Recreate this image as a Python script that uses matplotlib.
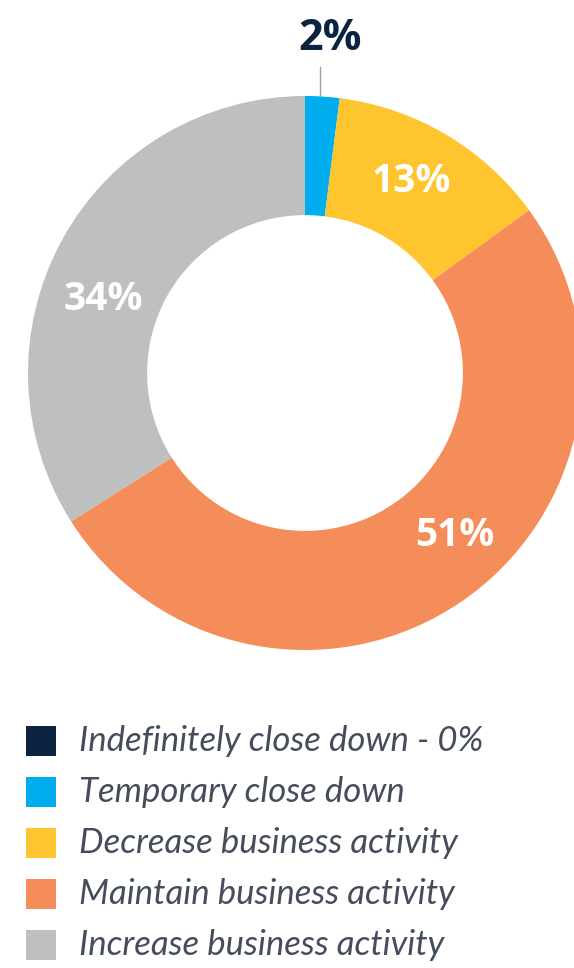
import matplotlib
matplotlib.use("Agg")
import matplotlib.pyplot as plt
from matplotlib.patches import Rectangle

# Data
categories = ["Indefinitely close down - 0%", "Temporary close down",
              "Decrease business activity", "Maintain business activity",
              "Increase business activity"]
shares = [0, 2, 13, 51, 34]
colors = ["#0b2240", "#00adee", "#ffc52e", "#f58d5a", "#bdbfc1"]

W, H = 574, 968
fig = plt.figure(figsize=(W / 100, H / 100), dpi=100)
ax = fig.add_axes([0, 0, 1, 1])

# donut (skip the zero slice, it has no wedge)
cx, cy, R = 305, H - 373, 277
vals = [v for v in shares if v > 0]
cols = [c for v, c in zip(shares, colors) if v > 0]
wedges, _ = ax.pie(vals, colors=cols, startangle=90, counterclock=False,
                   center=(cx, cy), radius=R, frame=True,
                   wedgeprops=dict(width=R * 0.43, linewidth=0))
ax.set_xlim(0, W)
ax.set_ylim(0, H)
ax.set_aspect("equal")
ax.axis("off")

lbl_font = dict(family="Open Sans", weight="bold", fontsize=28)
ax.text(330, H - 38, "2%", color="#0b2240", ha="center", va="center",
        family="Open Sans", weight="bold", fontsize=31)
ax.plot([320, 320], [H - 67, H - 96], color="#a0a2a5", lw=1)
ax.text(411, H - 181, "13%", color="white", ha="center", va="center", **lbl_font)
ax.text(455, H - 536, "51%", color="white", ha="center", va="center", **lbl_font)
ax.text(103, H - 300, "34%", color="white", ha="center", va="center", **lbl_font)

# legend
y0, step = 741, 51
for i, (name, c) in enumerate(zip(categories, colors)):
    y = H - (y0 + i * step)
    ax.add_patch(Rectangle((26, y - 15), 30, 30, color=c, lw=0))
    ax.text(79, y, name, color="#454c5c", ha="left", va="center",
            family="Lato", style="italic", weight="normal", fontsize=25)

fig.savefig("out.png", dpi=100)
